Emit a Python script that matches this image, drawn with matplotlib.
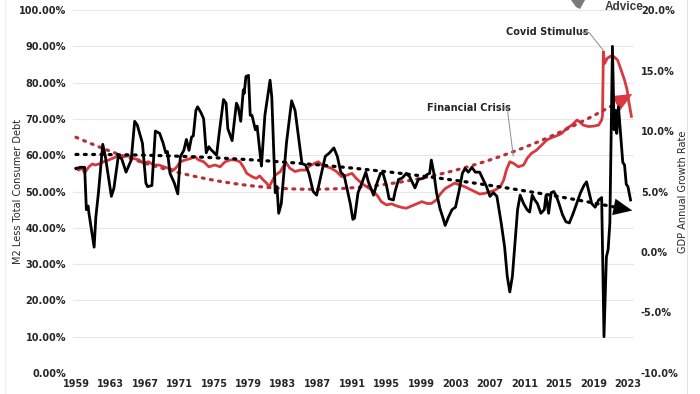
import numpy as np
import matplotlib.pyplot as plt
from matplotlib.ticker import FuncFormatter
from matplotlib.lines import Line2D
from matplotlib.patches import Polygon

# M2 less total consumer debt (% of GDP), left axis
m2_years = [1959.0, 1959.3, 1959.7, 1960.0, 1960.5, 1960.9, 1961.2, 1961.7, 1962.2, 1962.8,
            1963.4, 1963.9, 1964.5, 1965.1, 1965.7, 1966.3, 1966.8, 1967.4, 1968.0, 1968.6,
            1969.2, 1969.7, 1970.3, 1970.7, 1971.1, 1971.7, 1972.3, 1972.8, 1973.2, 1973.8,
            1974.4, 1975.1, 1975.7, 1976.3, 1976.9, 1977.4, 1978.0, 1978.4, 1978.8, 1979.4,
            1979.9, 1980.3, 1980.7, 1981.1, 1981.4, 1981.7, 1982.1, 1982.7, 1983.0, 1983.4,
            1983.8, 1984.4, 1985.0, 1985.6, 1986.1, 1986.7, 1987.1, 1987.5, 1988.1, 1988.6,
            1989.2, 1989.8, 1990.4, 1991.0, 1991.5, 1992.1, 1992.7, 1993.3, 1993.9, 1994.4,
            1995.0, 1995.6, 1996.2, 1996.8, 1997.3, 1997.9, 1998.5, 1999.1, 1999.7, 2000.2,
            2000.8, 2001.2, 2001.8, 2002.4, 2002.9, 2003.5, 2004.1, 2004.7, 2005.3, 2005.8,
            2006.4, 2007.0, 2007.6, 2008.2, 2008.6, 2008.9, 2009.3, 2009.7, 2010.3, 2010.9,
            2011.3, 2011.8, 2012.4, 2013.0, 2013.6, 2014.2, 2014.7, 2015.3, 2015.9, 2016.5,
            2017.1, 2017.4, 2017.8, 2018.4, 2019.0, 2019.6, 2019.95, 2020.05, 2020.15, 2020.3,
            2020.6, 2021.0, 2021.4, 2021.8, 2022.2, 2022.6, 2022.9, 2023.1, 2023.4]
m2_pct = [56.4, 55.9, 56.4, 55.2, 56.8, 57.6, 57.3, 57.6, 58.2, 58.7,
          59.3, 59.8, 59.6, 59.8, 59.1, 58.7, 57.8, 58.2, 57.3, 57.3,
          56.8, 56.4, 55.9, 56.8, 58.2, 58.7, 59.1, 59.6, 58.7, 58.2,
          56.8, 57.3, 56.8, 58.2, 58.7, 58.7, 58.2, 56.8, 55.0, 54.1,
          53.6, 54.3, 53.2, 52.3, 51.3, 52.7, 54.5, 55.5, 56.8, 57.8,
          56.4, 55.5, 55.9, 55.9, 57.0, 57.8, 58.2, 57.3, 56.8, 56.4,
          55.5, 54.1, 54.5, 55.0, 53.6, 52.3, 51.3, 50.4, 49.0, 47.2,
          46.3, 46.6, 46.0, 45.6, 45.4, 46.0, 46.6, 47.2, 46.7, 46.7,
          47.7, 49.2, 50.8, 51.6, 52.3, 51.8, 51.3, 50.6, 49.9, 49.3,
          49.5, 49.9, 50.4, 51.3, 53.2, 55.9, 58.2, 57.8, 56.8, 57.3,
          59.1, 60.5, 61.4, 62.8, 64.2, 64.9, 65.3, 66.0, 67.4, 68.3,
          69.7, 69.2, 68.3, 67.9, 68.0, 68.3, 69.7, 71.0, 88.5, 85.3,
          86.7, 87.3, 87.1, 86.2, 83.5, 80.7, 78.0, 74.7, 70.7]

# Nominal GDP annual growth rate (%), right axis
gdp_years = [1959.0, 1959.5, 1960.0, 1960.2, 1960.4, 1960.5, 1961.1, 1961.3, 1961.6, 1962.1,
             1962.4, 1962.8, 1963.1, 1963.4, 1963.9, 1964.3, 1964.8, 1965.4, 1965.8, 1966.1,
             1966.7, 1967.1, 1967.3, 1967.8, 1968.2, 1968.7, 1969.1, 1969.4, 1969.6, 1969.9,
             1970.4, 1970.8, 1971.1, 1971.5, 1971.8, 1972.1, 1972.4, 1972.6, 1972.9, 1973.1,
             1973.5, 1973.8, 1974.1, 1974.4, 1974.6, 1975.3, 1975.6, 1976.1, 1976.4, 1976.6,
             1977.1, 1977.6, 1977.8, 1978.1, 1978.4, 1978.5, 1978.7, 1979.0, 1979.2, 1979.4,
             1979.8, 1980.0, 1980.5, 1980.9, 1981.5, 1981.7, 1982.1, 1982.3, 1982.5, 1982.8,
             1983.4, 1984.0, 1984.4, 1984.8, 1985.2, 1985.6, 1986.0, 1986.5, 1986.9, 1987.3,
             1987.9, 1988.4, 1988.9, 1989.3, 1989.7, 1990.1, 1990.8, 1991.1, 1991.3, 1991.7,
             1992.2, 1992.6, 1992.9, 1993.5, 1993.9, 1994.3, 1994.6, 1995.0, 1995.3, 1995.8,
             1996.0, 1996.4, 1996.8, 1997.3, 1997.7, 1998.3, 1998.7, 1999.3, 1999.7, 2000.0,
             2000.2, 2000.5, 2000.8, 2001.2, 2001.6, 2001.8, 2002.2, 2002.6, 2003.0, 2003.4,
             2003.8, 2004.1, 2004.5, 2004.9, 2005.3, 2005.8, 2006.2, 2006.6, 2007.0, 2007.4,
             2007.8, 2008.1, 2008.3, 2008.7, 2009.0, 2009.3, 2009.6, 2009.9, 2010.2, 2010.5,
             2010.9, 2011.3, 2011.6, 2011.9, 2012.2, 2012.5, 2012.9, 2013.3, 2013.5, 2013.8,
             2014.1, 2014.4, 2014.7, 2015.0, 2015.4, 2015.8, 2016.2, 2016.6, 2017.0, 2017.5,
             2017.9, 2018.2, 2018.5, 2018.8, 2019.2, 2019.6, 2019.95, 2020.22, 2020.5, 2020.7,
             2020.9, 2021.2, 2021.4, 2021.6, 2021.7, 2021.9, 2022.2, 2022.4, 2022.6, 2022.8,
             2023.0, 2023.3]
gdp_pct = [6.9, 7.0, 7.0, 3.5, 3.8, 3.2, 0.4, 2.9, 4.9, 8.9,
           7.9, 6.0, 4.6, 5.3, 7.9, 7.7, 6.6, 7.6, 10.8, 10.5,
           9.0, 5.7, 5.4, 5.5, 10.0, 9.8, 9.0, 8.2, 8.3, 6.5,
           5.7, 4.8, 7.9, 8.4, 9.3, 8.4, 9.5, 9.6, 11.7, 12.0,
           11.5, 11.0, 8.2, 8.7, 8.5, 8.0, 9.8, 12.6, 12.3, 10.2,
           9.2, 12.3, 12.0, 10.8, 13.4, 13.1, 14.5, 14.6, 11.3, 11.3,
           10.1, 10.4, 7.1, 11.3, 14.2, 12.8, 4.9, 5.4, 3.2, 4.0,
           9.0, 12.5, 11.7, 9.5, 7.3, 7.2, 6.5, 5.0, 4.7, 6.0,
           7.9, 8.2, 8.6, 7.9, 6.6, 6.3, 4.0, 2.7, 2.8, 4.9,
           5.8, 6.6, 5.8, 4.7, 5.7, 6.5, 6.5, 5.5, 4.4, 4.3,
           5.0, 6.0, 6.1, 6.5, 6.2, 5.3, 6.0, 6.1, 6.4, 6.5,
           7.6, 6.5, 4.9, 3.6, 2.7, 2.2, 2.9, 3.5, 3.7, 5.0,
           6.5, 6.9, 6.6, 7.0, 6.6, 6.6, 6.0, 5.4, 4.6, 4.9,
           4.6, 3.3, 2.4, 0.4, -2.0, -3.3, -2.0, 0.7, 3.5, 4.7,
           4.0, 3.5, 3.3, 4.7, 4.3, 4.0, 3.2, 3.5, 4.7, 3.2,
           4.9, 5.0, 4.6, 4.0, 3.1, 2.5, 2.4, 3.1, 3.9, 4.9,
           5.5, 5.8, 4.9, 4.0, 3.7, 4.3, 4.5, -7.0, -0.4, 0.2,
           2.4, 17.0, 10.1, 11.7, 9.8, 12.0, 9.3, 7.4, 7.2, 5.6,
           5.4, 4.3]

tick_years = list(range(1959, 2024, 4))

plt.rcParams['font.family'] = ['Liberation Sans Narrow', 'DejaVu Sans']
plt.rcParams['font.weight'] = 'bold'

RED = '#d8383f'
RED_DOT = '#b9303a'
TXT = '#262626'

fig = plt.figure(figsize=(7, 3.94), dpi=100)
ax = fig.add_axes([73 / 700, 21 / 394, 561 / 700, 363 / 394])
ax2 = ax.twinx()

# red series + 2nd order trend
ax.plot(m2_years, m2_pct, color=RED, lw=2.0, zorder=3)
xs = np.linspace(1959, 2023.5, 300)
c_red = np.polyfit(m2_years, m2_pct, 2)
ax.plot(xs[:-10], np.polyval(c_red, xs[:-10]), color=RED_DOT, lw=2.3,
        linestyle=(0, (0.6, 2.0)), dash_capstyle='round', zorder=4)
ax.annotate('', xy=(xs[-1], np.polyval(c_red, xs[-1])),
            xytext=(xs[-16], np.polyval(c_red, xs[-16])),
            arrowprops=dict(arrowstyle='-|>,head_length=0.9,head_width=0.4',
                            color=RED, lw=0.01, shrinkA=0, shrinkB=0,
                            mutation_scale=15), zorder=6)

# black series + trend
ax2.plot(gdp_years, gdp_pct, color='black', lw=2.0, zorder=3)
c_blk = np.polyfit(gdp_years, gdp_pct, 2)
ax2.plot(xs[:-10], np.polyval(c_blk, xs[:-10]), color='black', lw=2.3,
         linestyle=(0, (0.6, 2.0)), dash_capstyle='round', zorder=4)
ax2.annotate('', xy=(xs[-1], np.polyval(c_blk, xs[-1])),
             xytext=(xs[-16], np.polyval(c_blk, xs[-16])),
             arrowprops=dict(arrowstyle='-|>,head_length=0.9,head_width=0.4',
                             color='black', lw=0.01, shrinkA=0, shrinkB=0,
                             mutation_scale=15), zorder=5)

ax.set_xlim(1958.65, 2023.7)
ax.set_ylim(0, 100)
ax2.set_ylim(-10, 20)
ax.set_yticks(np.arange(0, 101, 10))
ax2.set_yticks(np.arange(-10, 21, 5))
ax.set_xticks(tick_years)
ax.yaxis.set_major_formatter(FuncFormatter(lambda v, p: f'{v:.2f}%'))
ax2.yaxis.set_major_formatter(FuncFormatter(lambda v, p: f'{v:.1f}%'))
ax.grid(axis='y', color='#e8e8e8', lw=0.8)
ax.set_axisbelow(True)
for a in (ax, ax2):
    for s in a.spines.values():
        s.set_visible(False)
    a.tick_params(length=0, labelsize=7, labelcolor=TXT)
ax.tick_params(axis='y', pad=5)
ax.tick_params(axis='x', pad=4)
ax2.tick_params(axis='y', pad=5)

ax.set_ylabel('M2 Less Total Consumer Debt', fontsize=7, color=TXT)
ax.yaxis.set_label_coords((23 - 73) / 561, 0.5)
ax2.set_ylabel('GDP Annual Growth Rate', fontsize=7, color=TXT)
ax2.yaxis.set_label_coords((678 - 73) / 561, 0.5)

# annotations
ax.text(2013.7, 93.9, 'Covid Stimulus', fontsize=7, ha='center', va='center', color=TXT)
ax.plot([2017.6, 2018.5, 2020.1], [93.8, 93.8, 89.0], color='#8c8c8c', lw=0.7, zorder=6)
ax.text(2004.6, 73.0, 'Financial Crisis', fontsize=7, ha='center', va='center', color=TXT)
ax.plot([2008.5, 2009.0, 2009.7], [73.0, 73.0, 59.8], color='#8c8c8c', lw=0.7, zorder=6)

# logo remnant at the top
fig.text(605 / 700, 1 - 10 / 394, 'Advice', fontsize=8.5, color='#3a3a3a',
         family=['Liberation Sans', 'DejaVu Sans'], ha='left', va='baseline')
fig.add_artist(Polygon([[571 / 700, 1.0], [585 / 700, 1.0], [580 / 700, 1 - 9 / 394],
                        [576 / 700, 1 - 7 / 394]], closed=True, color='#7a7a7a', lw=0))
# faint chart border
fig.add_artist(Line2D([687 / 700, 687 / 700], [0, 1], color='#e4e4e4', lw=0.8))
fig.add_artist(Line2D([5 / 700, 5 / 700], [0, 1], color='#ececec', lw=0.8))

fig.savefig('out.png', dpi=100)
